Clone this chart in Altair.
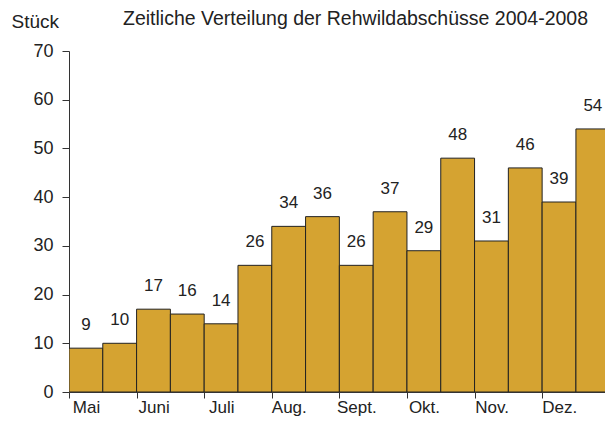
import altair as alt
import pandas as pd

values = [9, 10, 17, 16, 14, 26, 34, 36, 26, 37, 29, 48, 31, 46, 39, 54]
months = ["Mai", "Juni", "Juli", "Aug.", "Sept.", "Okt.", "Nov.", "Dez."]
title_text = "Zeitliche Verteilung der Rehwildabschüsse 2004-2008"
y_title = "Stück"

df = pd.DataFrame({
    "start": list(range(len(values))),
    "end": [i + 1 for i in range(len(values))],
    "mid": [i + 0.5 for i in range(len(values))],
    "value": values,
})

font = "Liberation Sans"
label_expr = "[" + ",".join("'" + m + "'" for m in months) + "][datum.value/2]"

x_scale = alt.Scale(domain=[0, 15.86], nice=False, zero=False)
y_scale = alt.Scale(domain=[0, 70], nice=False)

bars = alt.Chart(df).mark_bar(
    color="#D5A331", stroke="#222222", strokeWidth=1, clip=True
).encode(
    x=alt.X("start:Q", scale=x_scale, axis=alt.Axis(
        values=list(range(0, 16, 2)), labelExpr=label_expr, title=None,
        grid=False, tickSize=6, labelAlign="center", labelOffset=17,
        labelPadding=1, labelFontSize=17, labelFont=font, labelColor="#222222",
        domainColor="#333333", tickColor="#333333")),
    x2="end:Q",
    y=alt.Y("value:Q", scale=y_scale, axis=alt.Axis(
        values=list(range(0, 71, 10)), title=y_title, titleAngle=0,
        titleAlign="left", titleBaseline="alphabetic", titleX=-58, titleY=-24,
        titleFont=font, titleFontSize=19, titleFontWeight="normal", titleColor="#222222",
        grid=False, tickSize=7, labelPadding=9, labelFontSize=18, labelFont=font,
        labelColor="#222222", domainColor="#333333", tickColor="#333333")),
    y2=alt.datum(0),
)

labels = alt.Chart(df).mark_text(
    font=font, fontSize=17, color="#222222", baseline="middle", dy=-23
).encode(
    x=alt.X("mid:Q", scale=x_scale),
    y=alt.Y("value:Q", scale=y_scale),
    text="value:Q",
)

chart = alt.layer(bars, labels).properties(
    width=536, height=341,
    title=alt.TitleParams(title_text, anchor="start", frame="group", dx=54, dy=17,
                          font=font, fontSize=19.5, fontWeight="normal",
                          color="#222222", offset=0),
    autosize=alt.AutoSizeParams(type="none"),
    padding={"left": 61, "top": 43, "right": 0, "bottom": 28},
).configure_view(stroke=None)

chart.save("out.html", embed_options={"renderer": "svg", "actions": False})
